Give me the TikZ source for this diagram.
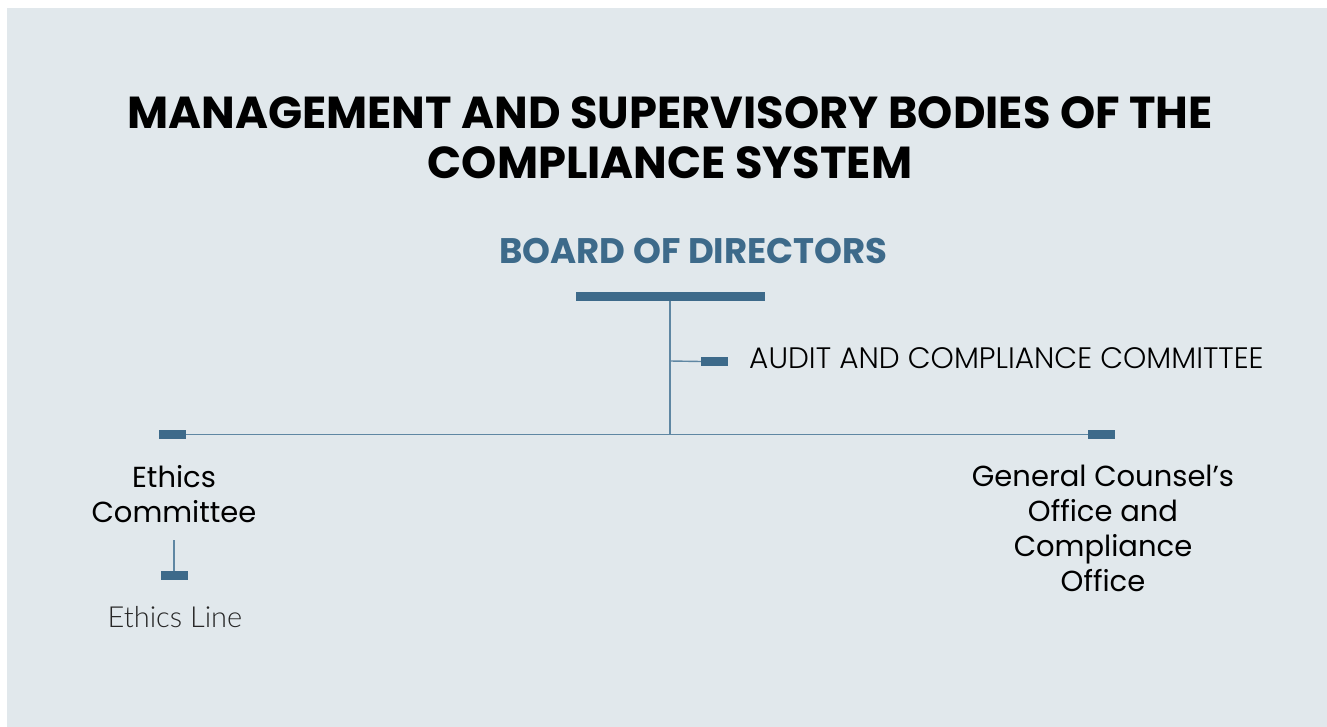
\documentclass[tikz,border=0pt]{standalone}
\usepackage{fontspec}
\setmainfont{Poppins}
\newfontfamily\poplight{Poppins}[UprightFont={* Light}]
\newfontfamily\latolight{Lato}[UprightFont={* Light}]
\definecolor{bgc}{HTML}{E1E8EC}
\definecolor{bluec}{HTML}{3D6A8A}
\definecolor{linec}{HTML}{5F87A3}
\tikzset{
  bar/.style={fill=bluec, draw=none, inner sep=0pt, minimum width=27pt, minimum height=9pt},
  conn/.style={draw=linec, line width=1.4pt},
  title/.style={font=\bfseries\fontsize{44.8}{44.8}\selectfont, text=black, anchor=base, inner sep=0pt},
  board/.style={font=\bfseries\fontsize{35.5}{35.5}\selectfont, text=bluec, anchor=base, inner sep=0pt},
  label/.style={font=\fontsize{29}{35}\selectfont, text=black, align=center, inner sep=0pt, anchor=north},
}
\begin{document}
\begin{tikzpicture}[x=1pt,y=-1pt]
\useasboundingbox (0,0) rectangle (1327,727);
\fill[white] (0,0) rectangle (1327,727);
\fill[bgc] (7,8) rectangle (1327,727);
% title
\node[title] (t1) at (670,129) {MANAGEMENT AND SUPERVISORY BODIES OF THE};
\node[title] (t2) at (670,179) {COMPLIANCE SYSTEM};
\node[board] (board) at (693.5,263) {BOARD OF DIRECTORS};
% bars
\fill[bluec] (576,292) rectangle (765,301);
\coordinate (top) at (670,301);
\coordinate (mid) at (670,434);
\coordinate (aj) at (670,361);
\node[bar] (abox) at (714.5,361.5) {};
\node[bar] (lbox) at (172.5,434.5) {};
\node[bar] (rbox) at (1101.5,434.5) {};
\node[bar] (ebox) at (174.5,575.5) {};
\coordinate (etop) at (174,540);
\draw[conn] (top) -- (mid);
\draw[conn] (aj) -- (abox.west);
\draw[conn] (lbox.east) -- (rbox.west);
\draw[conn] (etop) -- (ebox.north -| etop);
% labels
\node[font=\poplight\fontsize{29.6}{29.6}\selectfont, anchor=base west, inner sep=0pt] (audit) at (749,368) {AUDIT AND COMPLIANCE COMMITTEE};
\node[label] (ethics) at (174,465) {Ethics\\Committee};
\node[label] (gc) at (1103,465) {General Counsel’s\\Office and\\Compliance\\Office};
\node[font=\latolight\fontsize{29}{29}\selectfont, anchor=base, inner sep=0pt, text=black!85] (eline) at (175,627) {Ethics Line};
\end{tikzpicture}
\end{document}
